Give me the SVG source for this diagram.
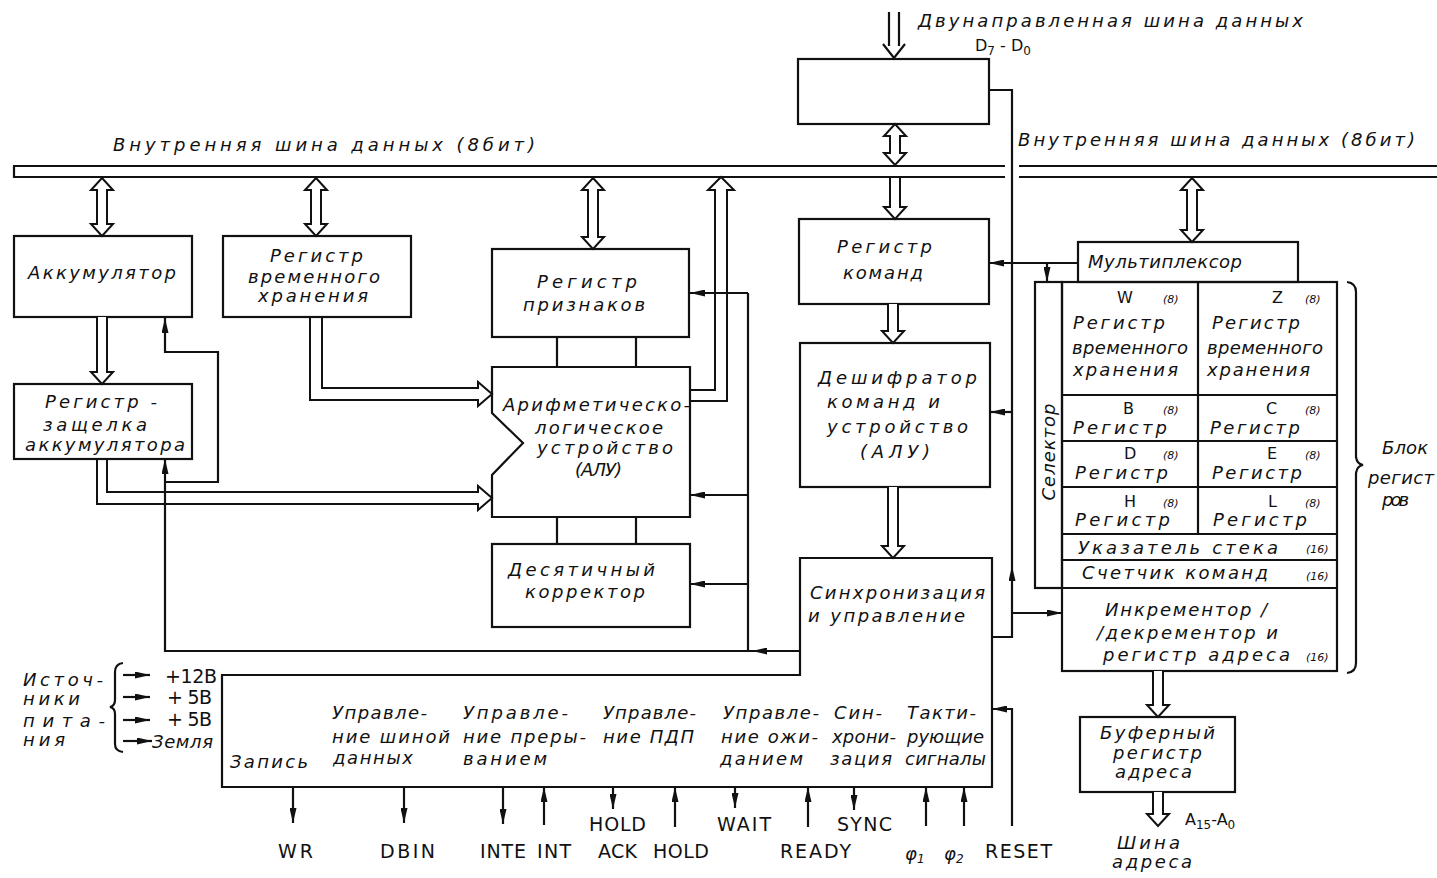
<svg xmlns="http://www.w3.org/2000/svg" width="1437" height="878" viewBox="0 0 1437 878">
<style>
.b{fill:none;stroke:#111;stroke-width:2.2}
.h{fill:none;stroke:#111;stroke-width:2}
.hw{fill:#fff;stroke:#111;stroke-width:2}
.l{fill:none;stroke:#111;stroke-width:2.2}
.a{marker-end:url(#ah)}
.i{font-family:"DejaVu Sans","Liberation Sans",sans-serif;font-style:italic;font-size:18px;fill:#111}
.s{font-family:"DejaVu Sans","Liberation Sans",sans-serif;font-style:italic;font-size:11px;fill:#111}
.r{font-family:"DejaVu Sans","Liberation Sans",sans-serif;font-size:16px;fill:#111}
.p{font-family:"DejaVu Sans","Liberation Sans",sans-serif;font-size:19px;fill:#111}
</style>
<defs>
<marker id="ah" viewBox="0 0 15 7" refX="15" refY="3.5" markerWidth="15" markerHeight="7" markerUnits="userSpaceOnUse" orient="auto">
<path d="M0,0 L15,3.5 L0,7 Z" fill="#111"/>
</marker>
</defs>
<rect x="0" y="0" width="1437" height="878" fill="#fff"/>

<g id="bus">
<path class="l" d="M1005,166 L14,166 L14,177 L1005,177 M1019,166 L1437,166 M1019,177 L1437,177" stroke-width="2.5"/>
<text class="i" x="113" y="151" font-size="16" textLength="422" lengthAdjust="spacing">Внутренняя шина данных (8бит)</text>
<text class="i" x="1018" y="146" font-size="16" textLength="397" lengthAdjust="spacing">Внутренняя шина данных (8бит)</text>
</g>

<g id="ext-data-bus">
<path class="l" d="M889,12 L889,46 M899,12 L899,46 M883,44 L894,58 L905,44"/>
<text class="i" x="918" y="27" font-size="17" textLength="385" lengthAdjust="spacing">Двунаправленная шина данных</text>
<text class="r" x="975" y="51" font-size="18">D<tspan font-size="12" dy="4">7</tspan><tspan dy="-4"> - D</tspan><tspan font-size="12" dy="4">0</tspan></text>
</g>

<g id="data-buffer">
<rect class="b" x="798" y="59" width="191" height="65"/>
</g>

<g id="accumulator">
<rect class="b" x="14" y="236" width="178" height="81"/>
<text class="i" x="28" y="279" font-size="20" textLength="148" lengthAdjust="spacing">Аккумулятор</text>
</g>

<g id="acc-latch">
<rect class="b" x="14" y="384" width="178" height="75"/>
<text class="i" x="45" y="408" textLength="112" lengthAdjust="spacing">Регистр -</text>
<text class="i" x="43" y="431" textLength="104" lengthAdjust="spacing">защелка</text>
<text class="i" x="25" y="451" textLength="160" lengthAdjust="spacing">аккумулятора</text>
</g>

<g id="temp-reg">
<rect class="b" x="223" y="236" width="188" height="81"/>
<text class="i" x="270" y="262" textLength="93" lengthAdjust="spacing">Регистр</text>
<text class="i" x="248" y="283" textLength="132" lengthAdjust="spacing">временного</text>
<text class="i" x="258" y="302" textLength="110" lengthAdjust="spacing">хранения</text>
</g>

<g id="flags">
<rect class="b" x="492" y="249" width="197" height="88"/>
<text class="i" x="537" y="288" font-size="19" textLength="100" lengthAdjust="spacing">Регистр</text>
<text class="i" x="523" y="311" font-size="19" textLength="122" lengthAdjust="spacing">признаков</text>
</g>

<g id="alu">
<path class="b" d="M492,367 L690,367 L690,517 L492,517 L492,475 L523,443 L492,413 Z"/>
<text class="i" x="503" y="411" textLength="187" lengthAdjust="spacing">Арифметическо-</text>
<text class="i" x="535" y="434" textLength="128" lengthAdjust="spacing">логическое</text>
<text class="i" x="537" y="454" textLength="136" lengthAdjust="spacing">устройство</text>
<text class="i" x="575" y="476" textLength="47" lengthAdjust="spacing">(АЛУ)</text>
</g>

<g id="decimal">
<rect class="b" x="492" y="544" width="198" height="83"/>
<text class="i" x="508" y="576" font-size="19" textLength="147" lengthAdjust="spacing">Десятичный</text>
<text class="i" x="525" y="598" font-size="19" textLength="120" lengthAdjust="spacing">корректор</text>
</g>

<g id="instr-reg">
<rect class="b" x="799" y="219" width="190" height="85"/>
<text class="i" x="837" y="253" font-size="19" textLength="95" lengthAdjust="spacing">Регистр</text>
<text class="i" x="843" y="279" font-size="19" textLength="80" lengthAdjust="spacing">команд</text>
</g>

<g id="decoder">
<rect class="b" x="800" y="343" width="190" height="144"/>
<text class="i" x="818" y="384" font-size="19" textLength="159" lengthAdjust="spacing">Дешифратор</text>
<text class="i" x="827" y="408" font-size="19" textLength="113" lengthAdjust="spacing">команд и</text>
<text class="i" x="827" y="433" font-size="19" textLength="141" lengthAdjust="spacing">устройство</text>
<text class="i" x="860" y="458" font-size="19" textLength="70" lengthAdjust="spacing">(АЛУ)</text>
</g>

<g id="timing-control">
<path class="b" d="M800,558 L992,558 L992,787 L222,787 L222,675 L800,675 Z"/>
<text class="i" x="810" y="599" textLength="175" lengthAdjust="spacing">Синхронизация</text>
<text class="i" x="808" y="622" textLength="157" lengthAdjust="spacing">и управление</text>
<text class="i" x="230" y="768" textLength="78" lengthAdjust="spacing">Запись</text>
<text class="i" x="332" y="719" textLength="95" lengthAdjust="spacing">Управле-</text>
<text class="i" x="332" y="743" textLength="118" lengthAdjust="spacing">ние шиной</text>
<text class="i" x="333" y="764" textLength="80" lengthAdjust="spacing">данных</text>
<text class="i" x="463" y="719" textLength="105" lengthAdjust="spacing">Управле-</text>
<text class="i" x="463" y="743" textLength="123" lengthAdjust="spacing">ние преры-</text>
<text class="i" x="463" y="765" textLength="84" lengthAdjust="spacing">ванием</text>
<text class="i" x="603" y="719" textLength="93" lengthAdjust="spacing">Управле-</text>
<text class="i" x="603" y="743" textLength="91" lengthAdjust="spacing">ние ПДП</text>
<text class="i" x="723" y="719" textLength="96" lengthAdjust="spacing">Управле-</text>
<text class="i" x="721" y="743" textLength="97" lengthAdjust="spacing">ние ожи-</text>
<text class="i" x="720" y="765" textLength="83" lengthAdjust="spacing">данием</text>
<text class="i" x="834" y="719" textLength="48" lengthAdjust="spacing">Син-</text>
<text class="i" x="832" y="743" textLength="64" lengthAdjust="spacing">хрони-</text>
<text class="i" x="830" y="765" textLength="62" lengthAdjust="spacing">зация</text>
<text class="i" x="907" y="719" textLength="69" lengthAdjust="spacing">Такти-</text>
<text class="i" x="907" y="743" textLength="77" lengthAdjust="spacing">рующие</text>
<text class="i" x="905" y="765" textLength="81" lengthAdjust="spacing">сигналы</text>
</g>

<g id="multiplexer">
<rect class="b" x="1078" y="242" width="220" height="40"/>
<text class="i" x="1088" y="268" font-size="19" textLength="154" lengthAdjust="spacing">Мультиплексор</text>
</g>

<g id="selector">
<rect class="b" x="1035" y="282" width="27" height="306"/>
<text class="i" transform="translate(1055,452) rotate(-90)" x="0" y="0" text-anchor="middle" font-size="17" textLength="97" lengthAdjust="spacing">Селектор</text>
</g>

<g id="register-array">
<rect class="b" x="1062" y="282" width="275" height="389"/>
<path class="l" d="M1062,395 H1337 M1062,441 H1337 M1062,487 H1337 M1062,534 H1337 M1062,560 H1337 M1062,588 H1337 M1198,282 V534"/>
<text class="r" x="1117" y="303">W</text><text class="s" x="1163" y="303">(8)</text>
<text class="i" x="1073" y="329" font-size="17" textLength="92" lengthAdjust="spacing">Регистр</text>
<text class="i" x="1072" y="354" font-size="17" textLength="116" lengthAdjust="spacing">временного</text>
<text class="i" x="1073" y="376" font-size="17" textLength="105" lengthAdjust="spacing">хранения</text>
<text class="r" x="1272" y="303">Z</text><text class="s" x="1305" y="303">(8)</text>
<text class="i" x="1212" y="329" font-size="17" textLength="88" lengthAdjust="spacing">Регистр</text>
<text class="i" x="1207" y="354" font-size="17" textLength="116" lengthAdjust="spacing">временного</text>
<text class="i" x="1207" y="376" font-size="17" textLength="103" lengthAdjust="spacing">хранения</text>
<text class="r" x="1123" y="414">B</text><text class="s" x="1163" y="414">(8)</text>
<text class="i" x="1073" y="434" font-size="17" textLength="94" lengthAdjust="spacing">Регистр</text>
<text class="r" x="1266" y="414">C</text><text class="s" x="1305" y="414">(8)</text>
<text class="i" x="1210" y="434" font-size="17" textLength="90" lengthAdjust="spacing">Регистр</text>
<text class="r" x="1124" y="459">D</text><text class="s" x="1163" y="459">(8)</text>
<text class="i" x="1075" y="479" font-size="17" textLength="93" lengthAdjust="spacing">Регистр</text>
<text class="r" x="1267" y="459">E</text><text class="s" x="1305" y="459">(8)</text>
<text class="i" x="1212" y="479" font-size="17" textLength="90" lengthAdjust="spacing">Регистр</text>
<text class="r" x="1124" y="507">H</text><text class="s" x="1163" y="507">(8)</text>
<text class="i" x="1075" y="526" font-size="17" textLength="95" lengthAdjust="spacing">Регистр</text>
<text class="r" x="1268" y="507">L</text><text class="s" x="1305" y="507">(8)</text>
<text class="i" x="1213" y="526" font-size="17" textLength="94" lengthAdjust="spacing">Регистр</text>
<text class="i" x="1078" y="554" font-size="17" textLength="200" lengthAdjust="spacing">Указатель стека</text>
<text class="s" x="1306" y="553">(16)</text>
<text class="i" x="1082" y="579" font-size="17" textLength="186" lengthAdjust="spacing">Счетчик команд</text>
<text class="s" x="1306" y="580">(16)</text>
</g>

<g id="incrementer">
<text class="i" x="1105" y="616" textLength="162" lengthAdjust="spacing">Инкрементор /</text>
<text class="i" x="1097" y="639" textLength="181" lengthAdjust="spacing">/декрементор и</text>
<text class="i" x="1103" y="661" textLength="187" lengthAdjust="spacing">регистр адреса</text>
<text class="s" x="1306" y="661">(16)</text>
</g>

<g id="register-block-label">
<path class="l" d="M1347,282 Q1356,283 1356,292 L1356,457 Q1357,464 1363,465 Q1357,466 1356,473 L1356,663 Q1356,672 1347,673"/>
<text class="i" x="1382" y="454" textLength="46" lengthAdjust="spacing">Блок</text>
<text class="i" x="1368" y="484" textLength="66" lengthAdjust="spacing">регист</text>
<text class="i" x="1382" y="506" textLength="27" lengthAdjust="spacing">ров</text>
</g>

<g id="addr-buffer">
<rect class="b" x="1080" y="717" width="155" height="75"/>
<text class="i" x="1100" y="739" textLength="115" lengthAdjust="spacing">Буферный</text>
<text class="i" x="1113" y="759" textLength="89" lengthAdjust="spacing">регистр</text>
<text class="i" x="1115" y="778" textLength="77" lengthAdjust="spacing">адреса</text>
</g>

<g id="addr-bus-label">
<text class="r" x="1185" y="825" font-size="19">A<tspan font-size="12" dy="4">15</tspan><tspan dy="-4">-A</tspan><tspan font-size="12" dy="4">0</tspan></text>
<text class="i" x="1117" y="849" textLength="63" lengthAdjust="spacing">Шина</text>
<text class="i" x="1112" y="868" textLength="80" lengthAdjust="spacing">адреса</text>
</g>

<g id="power">
<text class="i" x="23" y="686" font-size="17" textLength="80" lengthAdjust="spacing">Источ-</text>
<text class="i" x="23" y="705" font-size="17" textLength="57" lengthAdjust="spacing">ники</text>
<text class="i" x="23" y="727" font-size="17" textLength="82" lengthAdjust="spacing">пита-</text>
<text class="i" x="23" y="746" font-size="17" textLength="42" lengthAdjust="spacing">ния</text>
<path class="l" d="M123,663 Q115,664 115,672 L115,700 Q115,706 110,707 Q115,708 115,714 L115,744 Q115,751 123,752"/>
<text class="p" x="165" y="683" font-size="17" textLength="52" lengthAdjust="spacing">+12В</text>
<text class="p" x="167" y="704" font-size="17" textLength="45" lengthAdjust="spacing">+ 5В</text>
<text class="p" x="167" y="726" font-size="17" textLength="45" lengthAdjust="spacing">+ 5В</text>
<text class="i" x="152" y="748" font-size="17" textLength="61" lengthAdjust="spacing">Земля</text>
</g>

<g id="pins">
<text class="p" x="278" y="858" textLength="35" lengthAdjust="spacing">WR</text>
<text class="p" x="380" y="858" textLength="55" lengthAdjust="spacing">DBIN</text>
<text class="p" x="480" y="858" textLength="46" lengthAdjust="spacing">INTE</text>
<text class="p" x="537" y="858" textLength="34" lengthAdjust="spacing">INT</text>
<text class="p" x="589" y="831" textLength="57" lengthAdjust="spacing">HOLD</text>
<text class="p" x="598" y="858" textLength="39" lengthAdjust="spacing">ACK</text>
<text class="p" x="653" y="858" textLength="56" lengthAdjust="spacing">HOLD</text>
<text class="p" x="717" y="831" textLength="54" lengthAdjust="spacing">WAIT</text>
<text class="p" x="780" y="858" textLength="71" lengthAdjust="spacing">READY</text>
<text class="p" x="837" y="831" textLength="55" lengthAdjust="spacing">SYNC</text>
<text class="i" x="905" y="860" font-size="21">φ<tspan font-size="12" dy="3">1</tspan></text>
<text class="i" x="944" y="860" font-size="21">φ<tspan font-size="12" dy="3">2</tspan></text>
<text class="p" x="985" y="858" textLength="67" lengthAdjust="spacing">RESET</text>
</g>

<g id="connectors">
<path class="hw" d="M102,178 L113,190 L107,190 L107,224 L113,224 L102,236 L91,224 L97,224 L97,190 L91,190 Z"/>
<path class="hw" d="M316,178 L327,190 L321,190 L321,224 L327,224 L316,236 L305,224 L311,224 L311,190 L305,190 Z"/>
<path class="hw" d="M593,178 L604,190 L598,190 L598,237 L604,237 L593,249 L582,237 L588,237 L588,190 L582,190 Z"/>
<path class="hw" d="M895,124 L906,136 L900,136 L900,153 L906,153 L895,165 L884,153 L890,153 L890,136 L884,136 Z"/>
<path class="hw" d="M1192,178 L1203,190 L1197,190 L1197,230 L1203,230 L1192,242 L1181,230 L1187,230 L1187,190 L1181,190 Z"/>
<path class="hw" d="M890,178 L890,207 L884,207 L895,219 L906,207 L900,207 L900,178"/>
<path class="hw" d="M97,317 L97,372 L91,372 L102,384 L113,372 L107,372 L107,317"/>
<path class="hw" d="M888,304 L888,331 L882,331 L893,343 L904,331 L898,331 L898,304"/>
<path class="hw" d="M888,487 L888,546 L882,546 L893,558 L904,546 L898,546 L898,487"/>
<path class="hw" d="M1153,671 L1153,705 L1147,705 L1158,717 L1169,705 L1163,705 L1163,671"/>
<path class="hw" d="M1153,792 L1153,814 L1147,814 L1158,826 L1169,814 L1163,814 L1163,792"/>
<path class="h" d="M690,401 L727,401 L727,190 L734,190 L721,177 L708,190 L715,190 L715,390 L690,390"/>
<path class="h" d="M322,317 L322,388 L478,388 L478,382 L492,394 L478,406 L478,400 L310,400 L310,317"/>
<path class="h" d="M107,459 L107,492 L478,492 L478,486 L492,498 L478,510 L478,504 L97,504 L97,459"/>
<path class="l" d="M557,337 V367 M636,337 V367 M557,517 V544 M636,517 V544"/>
<path class="l" d="M748,293 V651"/>
<path class="l a" d="M748,293 H690"/>
<path class="l a" d="M748,495 H690"/>
<path class="l a" d="M748,584 H690"/>
<path class="l a" d="M800,651 H752"/>
<path class="l a" d="M752,651 H165 V459"/>
<path class="l a" d="M165,482 H218 V352 H165 V318"/>
<path class="l a" d="M992,637 H1012 V566"/>
<path class="l" d="M1012,566 V90 H989"/>
<path class="l a" d="M1012,412 H990"/>
<path class="l a" d="M1012,613 H1062"/>
<path class="l a" d="M1078,263 H989"/>
<path class="l a" d="M1047,263 V282"/>
<path class="l a" d="M1012,826 V709 H992"/>
<path class="l a" d="M123,675 H150"/>
<path class="l a" d="M123,697 H150"/>
<path class="l a" d="M123,720 H150"/>
<path class="l a" d="M123,741 H152"/>
<path class="l a" d="M293,787 V823"/>
<path class="l a" d="M404,787 V823"/>
<path class="l a" d="M503,787 V824"/>
<path class="l a" d="M544,825 V787"/>
<path class="l a" d="M613,787 V809"/>
<path class="l a" d="M675,827 V787"/>
<path class="l a" d="M735,787 V808"/>
<path class="l a" d="M808,827 V787"/>
<path class="l a" d="M854,787 V810"/>
<path class="l a" d="M926,826 V787"/>
<path class="l a" d="M964,826 V787"/>
</g>
</svg>
